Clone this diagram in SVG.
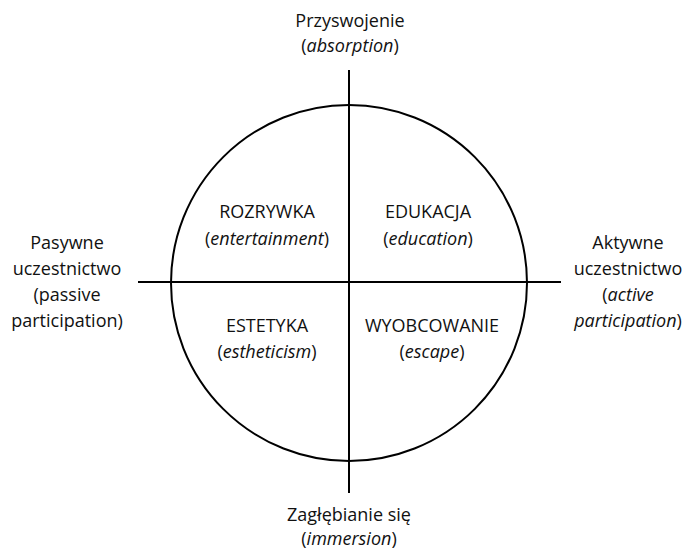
<svg xmlns="http://www.w3.org/2000/svg" width="687" height="549" viewBox="0 0 687 549">
<style>
text{font-family:"Open Sans","Noto Sans","DejaVu Sans",sans-serif;font-size:18px;fill:#111;text-anchor:middle}
.i{font-style:italic}
.ln{stroke:#000;stroke-width:2;fill:none}
</style>
<rect width="687" height="549" fill="#fff"/>
<g id="connectors">
<circle class="ln" cx="349" cy="283" r="178"/>
<line class="ln" x1="349" y1="70" x2="349" y2="493"/>
<line class="ln" x1="138" y1="282" x2="561" y2="282"/>
</g>
<g id="top"><text x="350" y="27">Przyswojenie</text><text x="350" y="52">(<tspan class="i">absorption</tspan>)</text></g>
<g id="bottom"><text x="349" y="521">Zagłębianie się</text><text x="349" y="545">(<tspan class="i">immersion</tspan>)</text></g>
<g id="left"><text x="67" y="249">Pasywne</text><text x="67" y="275">uczestnictwo</text><text x="67" y="301">(passive</text><text x="67" y="327">participation)</text></g>
<g id="right"><text x="628" y="249">Aktywne</text><text x="628" y="275">uczestnictwo</text><text x="628" y="301">(<tspan class="i">active</tspan></text><text x="628" y="327"><tspan class="i">participation</tspan>)</text></g>
<g id="q1"><text x="267" y="218">ROZRYWKA</text><text x="267" y="245">(<tspan class="i">entertainment</tspan>)</text></g>
<g id="q2"><text x="428" y="218">EDUKACJA</text><text x="428" y="245">(<tspan class="i">education</tspan>)</text></g>
<g id="q3"><text x="267" y="332">ESTETYKA</text><text x="267" y="358">(<tspan class="i">estheticism</tspan>)</text></g>
<g id="q4"><text x="432" y="332">WYOBCOWANIE</text><text x="432" y="358">(<tspan class="i">escape</tspan>)</text></g>
</svg>
